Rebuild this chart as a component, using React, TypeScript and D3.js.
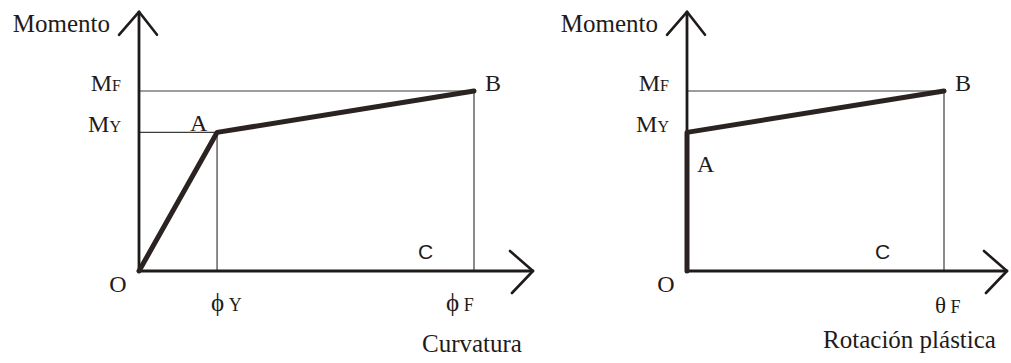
import { line, scaleLinear } from "d3";

const WIDTH = 1011;
const HEIGHT = 363;

// moment values (normalised to the plastic moment MF)
const MOMENT_Y = 0.77;
const MOMENT_F = 1;
const MOMENT_AXIS_END = 1.44;

// left panel: moment-curvature, curvature normalised to phi F
const CURVATURE_Y = 0.233;
const CURVATURE_F = 1;
const CURVATURE_AXIS_END = 1.176;
const curvaturePoints: [number, number][] = [
  [0, 0],
  [CURVATURE_Y, MOMENT_Y],
  [CURVATURE_F, MOMENT_F],
];

// right panel: moment-plastic rotation, rotation normalised to theta F
const ROTATION_F = 1;
const ROTATION_AXIS_END = 1.245;
const rotationPoints: [number, number][] = [
  [0, 0],
  [0, MOMENT_Y],
  [ROTATION_F, MOMENT_F],
];

const Y_TITLE = "Momento";
const LEFT_X_TITLE = "Curvatura";
const RIGHT_X_TITLE = "Rotación plástica";

const INK = "#1f1b1a";
const THIN = "#3c3c3c";
const SERIF = "'Liberation Serif', 'Times New Roman', 'DejaVu Serif', serif";
const SANS = "'Liberation Sans', Arial, sans-serif";

const yScale = scaleLinear().domain([0, 1]).range([271, 91]);
const xLeft = scaleLinear().domain([0, 1]).range([139, 474]);
const xRight = scaleLinear().domain([0, 1]).range([687, 944]);

function Arrows({ x0, y0, xEnd, yEnd }: { x0: number; y0: number; xEnd: number; yEnd: number }) {
  return (
    <g fill="none" stroke={INK} strokeWidth={2.6} strokeLinecap="round" strokeLinejoin="round">
      <line x1={x0} y1={y0} x2={x0} y2={yEnd} strokeWidth={2.8} />
      <line x1={x0} y1={y0} x2={xEnd} y2={y0} strokeWidth={2.8} />
      <polyline points={`${x0 - 20},${yEnd + 23} ${x0},${yEnd} ${x0 + 18},${yEnd + 23}`} />
      <polyline points={`${xEnd - 23},${y0 - 20} ${xEnd},${y0} ${xEnd - 21},${y0 + 22}`} />
    </g>
  );
}

function MLabel({ x, y, sub }: { x: number; y: number; sub: string }) {
  return (
    <text x={x} y={y} textAnchor="end" fontFamily={SERIF} fontSize={24} fill={INK}>
      M<tspan fontSize={16}>{sub}</tspan>
    </text>
  );
}

function Panel({
  xScale,
  points,
  axisEnd,
  xTitle,
  right,
}: {
  xScale: any;
  points: [number, number][];
  axisEnd: number;
  xTitle: string;
  right: boolean;
}) {
  const x0 = xScale(0);
  const y0 = yScale(0);
  const xEnd = xScale(axisEnd);
  const yEnd = yScale(MOMENT_AXIS_END);
  const path = line<[number, number]>()
    .x((d) => xScale(d[0]))
    .y((d) => yScale(d[1]))(points);
  const [, a, b] = points;
  const bx = xScale(b[0]);
  const by = yScale(b[1]);
  const ax = xScale(a[0]);
  const ay = yScale(a[1]);

  return (
    <g>
      {/* reference lines */}
      <g stroke={THIN} strokeWidth={1.2}>
        <line x1={x0} x2={bx} y1={yScale(MOMENT_F)} y2={yScale(MOMENT_F)} />
        <line x1={bx} x2={bx} y1={by} y2={y0} />
        {!right && (
          <>
            <line x1={x0} x2={ax} y1={ay} y2={ay} />
            <line x1={ax} x2={ax} y1={ay} y2={y0} />
          </>
        )}
      </g>
      <Arrows x0={x0} y0={y0} xEnd={xEnd} yEnd={yEnd} />
      <path d={path ?? ""} fill="none" stroke="#2a2321" strokeWidth={5} strokeLinejoin="round" strokeLinecap="round" />

      <text x={x0 - 29} y={32} textAnchor="end" fontFamily={SERIF} fontSize={25} fill={INK}>
        {Y_TITLE}
      </text>
      <MLabel x={x0 - 18} y={91} sub="F" />
      <MLabel x={x0 - 18} y={132} sub="Y" />
      <text x={x0 - 21} y={292} textAnchor="middle" fontFamily={SERIF} fontSize={24} fill={INK}>
        O
      </text>
      <text x={right ? ax + 10 : ax - 27} y={right ? 172 : 131} fontFamily={SERIF} fontSize={24} fill={INK}>
        A
      </text>
      <text x={bx + 11} y={91} fontFamily={SERIF} fontSize={24} fill={INK}>
        B
      </text>
      <text x={right ? bx - 69 : bx - 56} y={259} fontFamily={SANS} fontSize={21} fill={INK}>
        C
      </text>
      {right ? (
        <text x={bx - 9} y={313} fontFamily={SERIF} fill={INK}>
          <tspan fontSize={23}>θ</tspan>
          <tspan fontSize={18}> F</tspan>
        </text>
      ) : (
        <>
          <text x={ax - 6} y={311} fontFamily={SERIF} fill={INK}>
            <tspan fontSize={25}>ϕ</tspan>
            <tspan fontSize={18}> Y</tspan>
          </text>
          <text x={bx - 28} y={311} fontFamily={SERIF} fill={INK}>
            <tspan fontSize={25}>ϕ</tspan>
            <tspan fontSize={18}> F</tspan>
          </text>
        </>
      )}
      <text x={xEnd - 11} y={right ? 348 : 352} textAnchor="end" fontFamily={SERIF} fontSize={25} fill={INK}>
        {xTitle}
      </text>
    </g>
  );
}

export default function App() {
  return (
    <svg
      width={WIDTH}
      height={HEIGHT}
      viewBox={`0 0 ${WIDTH} ${HEIGHT}`}
      style={{ position: "absolute", left: 0, top: 0, background: "#fff" }}
    >
      <rect width={WIDTH} height={HEIGHT} fill="#fff" />
      <Panel xScale={xLeft} points={curvaturePoints} axisEnd={CURVATURE_AXIS_END} xTitle={LEFT_X_TITLE} right={false} />
      <Panel xScale={xRight} points={rotationPoints} axisEnd={ROTATION_AXIS_END} xTitle={RIGHT_X_TITLE} right />
    </svg>
  );
}
